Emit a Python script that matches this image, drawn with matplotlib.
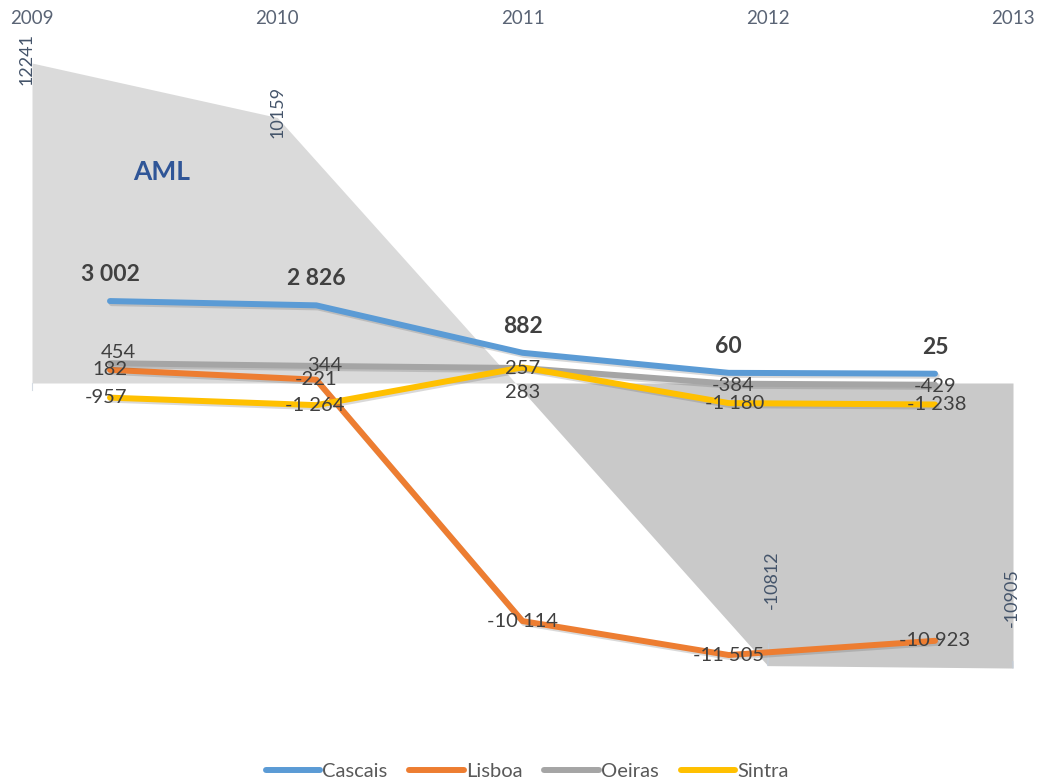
import matplotlib
matplotlib.use("Agg")
import matplotlib.pyplot as plt
import matplotlib.patheffects as pe
from matplotlib.transforms import blended_transform_factory
from matplotlib.lines import Line2D
import numpy as np

plt.rcParams['font.family'] = ['Lato', 'DejaVu Sans']

years = ['2009', '2010', '2011', '2012', '2013']
aml = [12241, 10159, -300, -10812, -10905]
cascais = [3002, 2826, 882, 60, 25]
lisboa = [182, -221, -10114, -11505, -10923]
oeiras = [454, 344, 257, -384, -429]
sintra = [-957, -1264, 283, -1180, -1238]

series_names = ['Cascais', 'Lisboa', 'Oeiras', 'Sintra']
series_colors = ['#5b9bd5', '#ed7d31', '#a5a5a5', '#ffc000']

W, H = 1040, 782
fig = plt.figure(figsize=(W / 100, H / 100), dpi=100)

# Area axis (AML) and line axis (municipalities) share the canvas
ax_a = fig.add_axes([0, 0, 1, 1])
ax_l = fig.add_axes([0, 0, 1, 1])
ax_l.patch.set_visible(False)

# pixel-based scaling for both axes
a_x0, a_dx = 32, 245.25
a_y0, a_sy = 383, 0.02614
ax_a.set_xlim(-a_x0 / a_dx, (W - a_x0) / a_dx)
ax_a.set_ylim(-(H - a_y0) / a_sy, a_y0 / a_sy)

l_x0, l_dx = 110, 206.25
l_y0, l_sy = 374.3, 0.0244
ax_l.set_xlim(-l_x0 / l_dx, (W - l_x0) / l_dx)
ax_l.set_ylim(-(H - l_y0) / l_sy, l_y0 / l_sy)

for ax in (ax_a, ax_l):
    ax.axis('off')

xa = np.arange(len(years))
aml_arr = np.array(aml, dtype=float)
ax_a.fill_between(xa, aml_arr, 0, where=aml_arr >= 0, interpolate=True,
                  color='#dadada', lw=0)
ax_a.fill_between(xa, aml_arr, 0, where=aml_arr <= 0, interpolate=True,
                  color='#c9c9c9', lw=0)
ax_a.plot([0, 0], [0, -250], color='#d5dbe3', lw=0.8)

# year labels along the top
tr_top = blended_transform_factory(ax_a.transData, ax_a.transAxes)
for i, yr in enumerate(years):
    ax_a.text(i, 1 - 18 / H, yr, transform=tr_top, ha='center', va='center',
              fontsize=13.5, color='#5a6475')

# AML value labels (rotated)
aml_offsets = [(-4, 3), (0, 4), None, (3, 62), (-1, 51)]
for i, v in enumerate(aml):
    off = aml_offsets[i]
    if off is None:
        continue
    if v < 0:
        ax_a.annotate(str(v), (i, v), xytext=off, textcoords='offset points',
                      rotation=90, ha='center', va='center', fontsize=13,
                      color='#44546a',
                      arrowprops=dict(arrowstyle='-', color='#c5cfdb', lw=0.8,
                                      shrinkA=23, shrinkB=0))
    else:
        ax_a.annotate(str(v), (i, v), xytext=off, textcoords='offset points',
                      rotation=90, ha='center', va='center', fontsize=13,
                      color='#44546a')

ax_a.text(0.53, 8072, 'AML', ha='center', va='center', fontsize=19,
          fontweight='bold', color='#2f5597')

# municipality lines
xl = np.arange(len(years))
all_series = [cascais, lisboa, oeiras, sintra]
shadow = [pe.SimpleLineShadow(offset=(1.2, -1.5), alpha=0.22, shadow_color='#555555'),
          pe.Normal()]
for vals, name, col in zip(all_series, series_names, series_colors):
    ax_l.plot(xl, vals, color=col, lw=4.3, solid_capstyle='round',
              solid_joinstyle='round', path_effects=shadow, label=name)


def fmt(v):
    return f"{v:,}".replace(",", " ")


label_color = '#404040'
for i, v in enumerate(cascais):
    ax_l.annotate(fmt(v), (i, v), xytext=(0, 19), textcoords='offset points',
                  ha='center', va='center', fontsize=16.5, fontweight='bold',
                  color=label_color)
for i, v in enumerate(lisboa):
    ax_l.annotate(fmt(v), (i, v), xytext=(0, 0), textcoords='offset points',
                  ha='center', va='center', fontsize=14.5, color=label_color)
oeiras_offsets = [(6, 8), (6, 0), (0, 0), (3, -1), (0, -1)]
for i, v in enumerate(oeiras):
    ax_l.annotate(fmt(v), (i, v), xytext=oeiras_offsets[i],
                  textcoords='offset points', ha='center', va='center',
                  fontsize=14.5, color=label_color)
sintra_offsets = [(-3, 0), (-1, 0), (0, -18), (4, 0), (1, 0)]
for i, v in enumerate(sintra):
    ax_l.annotate(fmt(v), (i, v), xytext=sintra_offsets[i],
                  textcoords='offset points', ha='center', va='center',
                  fontsize=14.5, color=label_color)

handles = [Line2D([], [], color=c, lw=4.3, solid_capstyle='round')
           for c in series_colors]
leg = fig.legend(handles, series_names, loc='center', ncol=4,
                 bbox_to_anchor=(527 / W, 1 - 771 / H), frameon=False,
                 fontsize=14.5, handlelength=2.7, handletextpad=0.1,
                 columnspacing=1.1, labelcolor='#595959')

fig.savefig('out.png', dpi=100)
